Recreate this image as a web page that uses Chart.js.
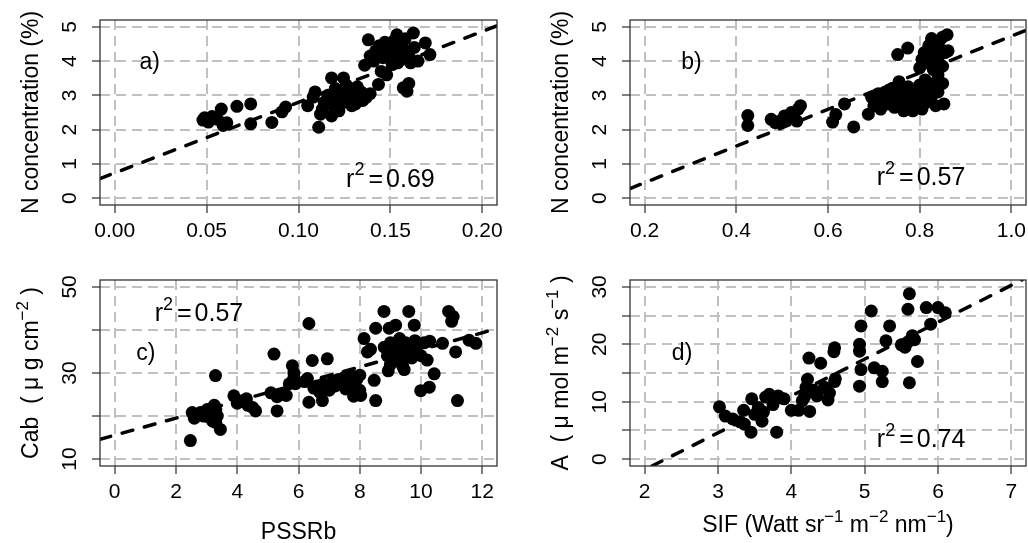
<!DOCTYPE html>
<html><head><meta charset="utf-8">
<script src="https://cdn.jsdelivr.net/npm/chart.js@4/dist/chart.umd.min.js"></script>
<style>
html,body{margin:0;padding:0;background:#fff;width:1028px;height:543px;overflow:hidden}
.p{position:absolute}
canvas{display:block}
</style></head><body>
<div class="p" style="left:0;top:0"><canvas id="ca" width="514" height="272" style="width:514px;height:272px"></canvas></div>
<div class="p" style="left:514px;top:0"><canvas id="cb" width="514" height="272" style="width:514px;height:272px"></canvas></div>
<div class="p" style="left:0;top:272px"><canvas id="cc" width="514" height="271" style="width:514px;height:271px"></canvas></div>
<div class="p" style="left:514px;top:272px"><canvas id="cd" width="514" height="271" style="width:514px;height:271px"></canvas></div>
<script>
const FONT = "'Liberation Sans', Arial, sans-serif";

// ---------- DATA ----------
// a) PSSRb (narrow) vs N concentration (%)
const ptsA = [
 [0.048,2.28],[0.049,2.35],[0.051,2.22],[0.053,2.38],[0.056,2.30],[0.058,2.60],[0.059,2.12],[0.061,2.20],
 [0.0665,2.68],[0.074,2.75],[0.074,2.17],[0.0855,2.21],[0.091,2.52],[0.093,2.66],
 [0.105,2.70],[0.108,2.95],[0.109,3.10],[0.111,2.07],[0.112,2.45],[0.113,2.60],[0.114,2.80],[0.116,3.00],
 [0.118,3.51],[0.118,2.40],[0.119,2.70],[0.120,3.20],[0.121,2.90],[0.122,2.55],[0.123,3.05],[0.1245,3.51],
 [0.125,2.80],[0.126,3.30],[0.127,2.95],[0.128,3.15],[0.129,2.70],[0.130,3.00],[0.131,2.75],[0.132,3.25],
 [0.133,2.95],[0.134,3.10],[0.135,2.85],[0.136,3.00],[0.137,2.95],[0.139,3.05],
 [0.138,4.62],[0.136,3.88],[0.139,4.15],[0.141,4.00],[0.142,4.30],[0.1435,3.32],[0.144,4.45],[0.145,3.70],
 [0.146,4.10],[0.147,4.55],[0.148,3.60],[0.149,4.25],[0.150,4.40],[0.151,3.90],[0.152,4.60],[0.1535,4.77],
 [0.153,4.20],[0.154,3.95],[0.155,4.50],[0.156,4.05],[0.157,3.22],[0.157,4.35],[0.158,4.65],[0.159,3.12],
 [0.160,3.35],[0.160,4.15],[0.161,3.95],[0.1625,4.82],[0.163,4.40],[0.165,4.00],[0.169,4.53],[0.1715,4.19]
];
const fitXA = [-0.008, 0.208], fitYA = [0.57, 5.03];
const xTicksA = [0, 0.05, 0.10, 0.15, 0.20], xLabelsA = ['0.00','0.05','0.10','0.15','0.20'];
const yTicksA = [0,1,2,3,4,5], yLabelsA = ['0','1','2','3','4','5'];

// b) index vs N concentration (%)
const ptsB = [
 [0.425,2.41],[0.425,2.12],[0.476,2.30],[0.485,2.20],[0.495,2.25],[0.505,2.40],[0.510,2.30],[0.520,2.50],
 [0.525,2.35],[0.532,2.25],[0.540,2.70],[0.535,2.60],
 [0.610,2.22],[0.617,2.44],[0.636,2.75],[0.656,2.08],
 [0.688,2.45],[0.695,2.95],[0.700,2.70],[0.705,2.85],[0.710,3.05],[0.715,2.60],[0.720,2.90],[0.725,3.10],
 [0.730,2.75],[0.735,2.95],[0.740,3.20],[0.745,2.65],[0.750,3.00],[0.755,3.40],[0.757,2.80],[0.760,3.15],
 [0.765,2.55],[0.770,2.95],[0.775,3.25],[0.780,2.70],[0.785,2.55],[0.790,3.05],[0.795,2.85],[0.800,3.30],
 [0.805,2.60],[0.810,3.00],[0.812,3.45],[0.815,2.80],[0.820,3.20],[0.825,2.95],[0.830,3.35],[0.840,3.10],
 [0.850,3.35],[0.853,2.75],[0.835,2.70],
 [0.752,4.19],[0.774,4.38],[0.800,3.80],[0.805,4.05],[0.810,4.25],[0.815,3.95],[0.820,4.45],[0.826,4.66],
 [0.830,4.20],[0.835,4.50],[0.840,4.00],[0.843,4.60],[0.845,4.35],[0.850,4.70],[0.855,4.25],[0.860,4.77],
 [0.862,4.30],[0.850,3.85],[0.840,3.60],[0.830,3.75]
];
const fitXB = [0.168, 1.032], fitYB = [0.28, 4.90];
const xTicksB = [0.2, 0.4, 0.6, 0.8, 1.0], xLabelsB = ['0.2','0.4','0.6','0.8','1.0'];
const yTicksB = [0,1,2,3,4,5], yLabelsB = ['0','1','2','3','4','5'];

// c) PSSRb vs Cab
const ptsC = [
 [2.47,14.3],[2.53,20.8],[2.60,19.5],[2.80,20.8],[2.90,20.0],[3.02,21.5],[3.02,19.9],[3.10,21.0],
 [3.20,18.8],[3.25,22.5],[3.29,29.4],[3.30,21.5],[3.35,20.0],[3.45,16.9],[3.30,18.5],
 [3.89,24.7],[4.00,23.0],[4.10,23.5],[4.30,24.0],[4.35,22.5],[4.60,21.2],[4.50,22.0],
 [5.10,25.4],[5.20,34.4],[5.30,21.2],[5.30,24.5],[5.50,25.0],[5.60,24.8],[5.70,27.5],[5.80,31.7],
 [5.85,30.0],[5.85,28.8],[5.90,27.5],
 [6.20,28.0],[6.34,41.5],[6.45,32.9],[6.34,23.2],[6.29,28.7],[6.50,26.5],[6.60,27.0],[6.70,25.5],[6.78,23.6],
 [6.80,27.5],[6.94,33.3],[7.00,26.0],[7.10,28.0],[7.20,27.0],[7.30,28.5],[7.40,27.5],[7.50,29.0],
 [7.54,26.3],[7.60,28.0],[7.70,29.5],[7.80,24.6],[7.80,27.0],[7.90,28.5],[8.00,26.0],[8.03,24.8],
 [8.00,29.5],[8.14,38.0],[8.25,34.9],[8.35,35.5],[8.47,28.3],[8.52,23.6],[8.52,40.4],[8.79,44.3],
 [8.96,40.4],[9.17,41.1],[8.93,30.5],[9.40,31.6],[9.60,44.3],[9.78,41.1],
 [8.80,36.0],[8.90,34.0],[9.00,37.0],[9.05,35.5],[9.10,33.0],[9.20,36.5],[9.25,34.5],[9.30,38.0],
 [9.35,32.5],[9.40,35.5],[9.50,37.0],[9.55,34.0],[9.60,36.0],[9.70,33.5],[9.80,37.5],[9.85,35.0],
 [9.90,36.5],[10.00,34.0],[10.10,37.0],[10.20,33.0],[10.28,37.4],[9.00,32.0],[9.45,30.8],
 [9.99,25.9],[10.27,26.7],[10.43,29.8],[10.90,44.3],[11.05,43.1],[11.00,42.0],[11.13,34.9],[10.70,36.9],
 [11.19,23.6],[11.57,37.6],[11.79,36.9]
];
const fitXC = [-0.48, 12.48], fitYC = [14.6, 40.3];
const xTicksC = [0,2,4,6,8,10,12], xLabelsC = ['0','2','4','6','8','10','12'];
const yTicksC = [10,20,30,40,50], yLabelsC = ['10','','30','','50'];

// d) SIF vs A
const ptsD = [
 [3.02,9.1],[3.10,7.5],[3.20,7.0],[3.30,6.5],[3.36,6.1],[3.35,8.5],[3.45,4.7],[3.46,10.5],
 [3.50,7.8],[3.55,9.0],[3.60,6.6],[3.62,8.2],[3.65,10.8],[3.70,11.3],[3.75,9.5],[3.80,4.7],
 [3.82,11.0],[3.90,10.5],[4.00,8.5],[4.10,8.5],[4.15,10.2],[4.18,10.8],[4.20,12.5],[4.22,13.9],
 [4.24,17.6],[4.25,8.3],[4.30,12.0],[4.35,11.0],[4.40,16.7],[4.45,12.5],[4.50,10.3],[4.52,11.5],
 [4.59,13.5],[4.58,18.7],[4.59,19.4],[4.60,14.0],[4.93,12.7],[4.95,15.6],[4.93,18.8],[4.93,20.0],
 [4.95,23.2],[5.09,25.8],[5.13,15.9],[5.24,13.5],[5.24,15.3],[5.29,20.6],[5.34,23.2],[5.50,19.9],
 [5.55,19.5],[5.60,20.5],[5.61,28.8],[5.59,26.1],[5.61,13.3],[5.65,21.5],[5.68,20.8],[5.72,17.0],
 [5.84,26.4],[5.90,23.5],[6.00,26.4],[6.10,25.5]
];
const fitXD = [2.10, 7.145], fitYD = [-1.2, 31.2];
const xTicksD = [2,3,4,5,6,7], xLabelsD = ['2','3','4','5','6','7'];
const yTicksD = [0,5,10,15,20,25,30], yLabelsD = ['0','','10','','20','','30'];

// ---------- DRAWING ----------
function rich(ctx, parts, x, y, rotated, size) {
  const sup = Math.round(size * 0.72), raise = size * 0.45;
  ctx.save();
  ctx.translate(x, y);
  if (rotated) ctx.rotate(-Math.PI / 2);
  ctx.textAlign = 'left'; ctx.textBaseline = 'alphabetic'; ctx.fillStyle = '#000';
  let w = 0;
  const ws = parts.map(p => { ctx.font = (p.sup ? sup : size) + 'px ' + FONT; const m = ctx.measureText(p.t).width + (p.pad || 0); w += m; return m; });
  let cx = -w / 2;
  parts.forEach((p, i) => { ctx.font = (p.sup ? sup : size) + 'px ' + FONT; ctx.fillText(p.t, cx + (p.pad || 0), p.sup ? -raise : 0); cx += ws[i]; });
  ctx.restore();
}

const deco = {
  id: 'deco',
  afterDraw(chart, args, o) {
    const P = o.p; const ctx = chart.ctx; const a = chart.chartArea;
    const xs = chart.scales.x, ys = chart.scales.y;
    ctx.save();
    ctx.setLineDash([]);
    ctx.strokeStyle = '#333'; ctx.lineWidth = 1.3;
    ctx.strokeRect(a.left, a.top, a.right - a.left, a.bottom - a.top);
    ctx.fillStyle = '#000'; ctx.font = '21px ' + FONT; ctx.textAlign = 'center'; ctx.textBaseline = 'middle';
    P.yTicks.forEach((v, i) => {
      const lab = P.yLabels[i]; if (!lab) return;
      ctx.save(); ctx.translate(a.left - 30, ys.getPixelForValue(v)); ctx.rotate(-Math.PI / 2); ctx.fillText(lab, 0, 0); ctx.restore();
    });
    rich(ctx, P.yTitle, a.left - 62, (a.top + a.bottom) / 2, true, 23);
    if (P.xTitle) rich(ctx, P.xTitle, (a.left + a.right) / 2, P.xTitleY, false, 23);
    ctx.font = '23px ' + FONT; ctx.textAlign = 'center'; ctx.textBaseline = 'alphabetic';
    ctx.fillText(P.tag, xs.getPixelForValue(P.tagAt[0]), ys.getPixelForValue(P.tagAt[1]));
    rich(ctx, [{t: 'r'}, {t: '2', sup: true}, {t: '=', pad: 4}, {t: P.r2, pad: 3}],
      xs.getPixelForValue(P.r2At[0]), ys.getPixelForValue(P.r2At[1]), false, 25);
    ctx.restore();
  }
};

function panel(id, P) {
  const W = 514, H = P.h;
  const grid = {color: '#c0c0c0', lineWidth: 2, tickLength: 8, tickColor: '#000', tickWidth: 1, tickBorderDash: []};
  new Chart(document.getElementById(id), {
    type: 'scatter',
    data: {datasets: [
      {data: P.fitX.map((v, i) => ({x: v, y: P.fitY[i]})), showLine: true, borderColor: '#000', backgroundColor: '#000',
       borderWidth: 3.5, borderDash: [11, 12], borderCapStyle: 'round', pointRadius: 0, fill: false},
      {data: P.pts.map(p => ({x: p[0], y: p[1]})), pointRadius: 6.5, pointBackgroundColor: '#000', backgroundColor: '#000',
       pointBorderWidth: 0, borderWidth: 0}
    ]},
    options: {
      responsive: false, animation: false, events: [],
      layout: {autoPadding: false, padding: {left: 0, top: P.area[1], right: W - P.area[2], bottom: 0}},
      plugins: {legend: {display: false}, tooltip: {enabled: false}, deco: {p: P}},
      scales: {
        x: {type: 'linear', bounds: 'data', min: P.xr[0], max: P.xr[1],
            afterBuildTicks: s => { s.ticks = P.xTicks.map(v => ({value: v})); },
            afterFit: s => { s.height = H - P.area[3]; s.paddingLeft = 0; s.paddingRight = 0; },
            ticks: {autoSkip: false, maxRotation: 0, minRotation: 0, padding: 6, color: '#000',
                    font: {family: FONT, size: 21}, callback: (v, i) => P.xLabels[i]},
            grid: grid, border: {display: false, dash: [10, 6]}},
        y: {type: 'linear', bounds: 'data', min: P.yr[0], max: P.yr[1],
            afterBuildTicks: s => { s.ticks = P.yTicks.map(v => ({value: v})); },
            afterFit: s => { s.width = P.area[0]; s.paddingTop = 0; s.paddingBottom = 0; },
            ticks: {display: false},
            grid: grid, border: {display: false, dash: [10, 6]}}
      }
    },
    plugins: [deco]
  });
}

const S = '\u2212';
panel('ca', {h: 272, area: [100, 20, 497, 205], xr: [-0.008, 0.208], yr: [-0.2, 5.2],
  pts: ptsA, fitX: fitXA, fitY: fitYA, xTicks: xTicksA, xLabels: xLabelsA, yTicks: yTicksA, yLabels: yLabelsA,
  yTitle: [{t: 'N concentration (%)'}], tag: 'a)', tagAt: [0.019, 3.77], r2: '0.69', r2At: [0.15, 0.34]});
panel('cb', {h: 272, area: [116, 20, 512, 205], xr: [0.168, 1.032], yr: [-0.2, 5.2],
  pts: ptsB, fitX: fitXB, fitY: fitYB, xTicks: xTicksB, xLabels: xLabelsB, yTicks: yTicksB, yLabels: yLabelsB,
  yTitle: [{t: 'N concentration (%)'}], tag: 'b)', tagAt: [0.302, 3.77], r2: '0.57', r2At: [0.803, 0.38]});
panel('cc', {h: 271, area: [100, 8, 497, 194], xr: [-0.48, 12.48], yr: [8.4, 51.6],
  pts: ptsC, fitX: fitXC, fitY: fitYC, xTicks: xTicksC, xLabels: xLabelsC, yTicks: yTicksC, yLabels: yLabelsC,
  yTitle: [{t: 'Cab  ( \u03bc g cm'}, {t: S + '2', sup: true}, {t: ' )'}],
  xTitle: [{t: 'PSSRb'}], xTitleY: 267, tag: 'c)', tagAt: [1.02, 33.1], r2: '0.57', r2At: [2.75, 42]});
panel('cd', {h: 271, area: [116, 8, 512, 194], xr: [1.8, 7.2], yr: [-1.2, 31.2],
  pts: ptsD, fitX: fitXD, fitY: fitYD, xTicks: xTicksD, xLabels: xLabelsD, yTicks: yTicksD, yLabels: yLabelsD,
  yTitle: [{t: 'A  ( \u03bc mol m'}, {t: S + '2', sup: true}, {t: ' s'}, {t: S + '1', sup: true}, {t: ' )'}],
  xTitle: [{t: 'SIF (Watt sr'}, {t: S + '1', sup: true}, {t: ' m'}, {t: S + '2', sup: true}, {t: ' nm'}, {t: S + '1', sup: true}, {t: ')'}],
  xTitleY: 260, tag: 'd)', tagAt: [2.51, 17.35], r2: '0.74', r2At: [5.77, 2.1]});
</script>
</body></html>
